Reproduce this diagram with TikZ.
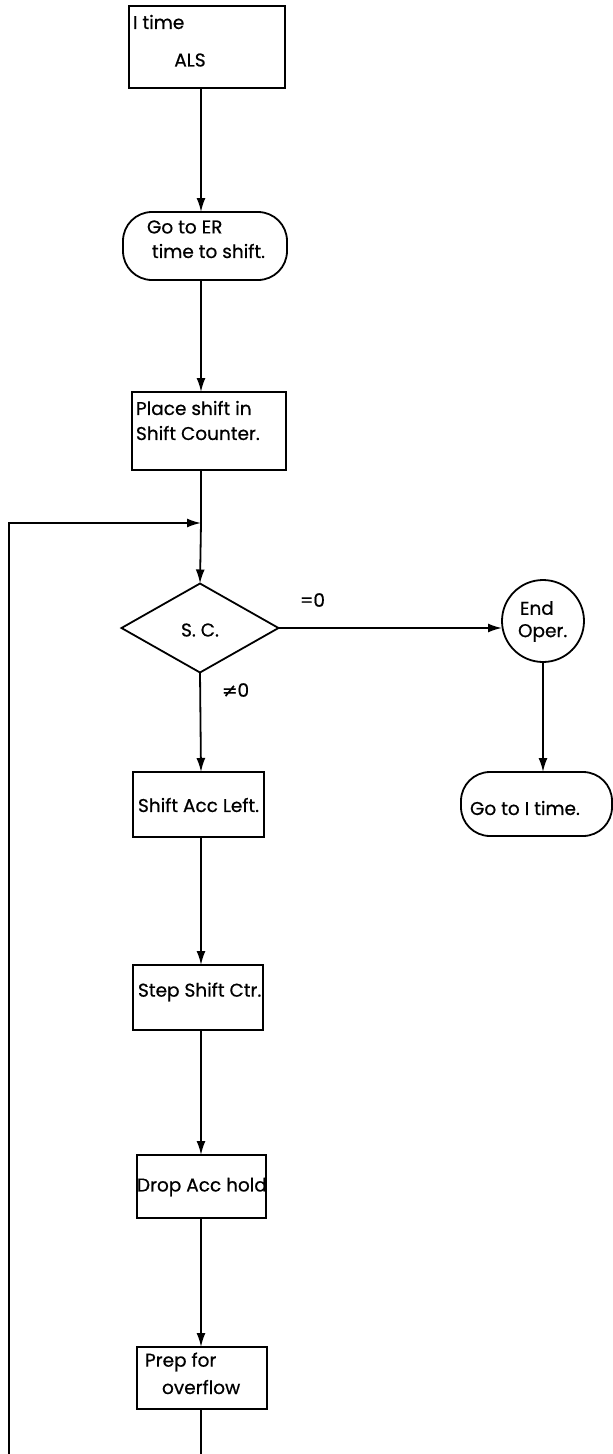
\documentclass[tikz,border=0pt]{standalone}
\usepackage{fontspec}
\setmainfont[FakeBold=0.6]{Poppins}
\newfontfamily\symfont[FakeBold=0.6]{DejaVu Sans}
\usetikzlibrary{arrows.meta,shapes.geometric}
\begin{document}
\begin{tikzpicture}[x=1pt,y=-1pt,
  every node/.style={inner sep=0pt,outer sep=0pt},
  flow/.style={line width=1.8pt},
  arr/.style={flow,-{Latex[length=14pt,width=9pt]}},
  boxsh/.style={draw,line width=1.8pt,rectangle},
  termsh/.style={draw,line width=1.8pt,rectangle,rounded corners=29pt},
  lbl/.style={font=\fontsize{18.5}{20}\selectfont,anchor=west},
  clbl/.style={font=\fontsize{18.5}{20}\selectfont}]
\useasboundingbox (0,0) rectangle (613,1454);
% shapes
\node[boxsh,minimum width=156pt,minimum height=82pt] (itime) at (207,47) {};
\node[termsh,minimum width=164pt,minimum height=68pt] (goer) at (205,246) {};
\node[boxsh,minimum width=154pt,minimum height=78pt] (place) at (209,431) {};
\node[draw,line width=1.8pt,diamond,minimum width=157pt,minimum height=89pt,aspect=1.76] (sc) at (200,628) {};
\node[draw,line width=1.8pt,circle,minimum size=82pt] (endop) at (543,621) {};
\node[termsh,minimum width=151pt,minimum height=64pt,rounded corners=29pt] (goi) at (536.5,804) {};
\node[boxsh,minimum width=131pt,minimum height=65pt] (sal) at (198.5,804.5) {};
\node[boxsh,minimum width=130pt,minimum height=65pt] (ssc) at (198,997.5) {};
\node[boxsh,minimum width=129pt,minimum height=63pt] (dah) at (201.5,1186.5) {};
\node[boxsh,minimum width=130pt,minimum height=62pt] (pfo) at (202,1378) {};
% texts
\node[lbl] (t1) at (133,22) {I time};
\node[clbl] (t2) at (190,60) {ALS};
\node[lbl] (t3) at (147,227) {Go to ER};
\node[lbl] (t4) at (152,251) {time to shift.};
\node[lbl] (t5) at (136,408) {Place shift in};
\node[lbl] (t6) at (136,433) {Shift Counter.};
\node[clbl] (t7) at (200,630) {S. C.};
\node[lbl] (t8) at (300,600) {=0};
\node[lbl] (t9) at (222,690) {{\symfont ≠}0};
\node[lbl] (t10) at (520,608) {End};
\node[lbl] (t11) at (518,633) {Oper.};
\node[lbl] (t12) at (470,808) {Go to I time.};
\node[lbl] (t13) at (138,805) {Shift Acc Left.};
\node[lbl] (t14) at (138,992) {Step Shift Ctr.};
\node[lbl] (t15) at (137,1187) {Drop Acc hold};
\node[lbl] (t16) at (145,1362) {Prep for};
\node[lbl] (t17) at (162,1387) {overflow};
% connectors
\coordinate (merge) at (201,523);
\coordinate (lb) at (9,1454);
\coordinate (rb) at (201,1454);
\draw[arr] (itime.south -| 201,0) -- (goer.north -| 201,0);
\draw[arr] (goer.south -| 201,0) -- (place.north -| 201,0);
\draw[flow] (place.south -| 201,0) -- (merge);
\draw[arr] (merge) -- (sc.north);
\draw[arr] (lb) |- (merge);
\draw[arr] (sc.east) -- (sc.east -| endop.west);
\draw[arr] (endop.south) -- (goi.north -| endop.south);
\draw[arr] (sc.south) -- (sal.north -| 201,0);
\draw[arr] (sal.south -| 201,0) -- (ssc.north -| 201,0);
\draw[arr] (ssc.south -| 201,0) -- (dah.north -| 201,0);
\draw[arr] (dah.south -| 201,0) -- (pfo.north -| 201,0);
\draw[flow] (pfo.south -| 201,0) -- (rb);
\end{tikzpicture}
\end{document}
